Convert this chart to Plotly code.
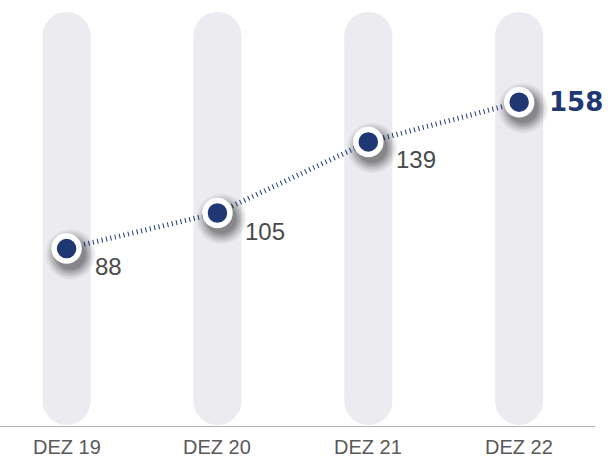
import plotly.graph_objects as go

# Year-end counts
categories = ["DEZ 19", "DEZ 20", "DEZ 21", "DEZ 22"]
values = [88, 105, 139, 158]
value_labels = ["88", "105", "139", "158"]

NAVY = "#1f3873"
TRACK = "#ebebf0"
LABEL_GREY = "#4a4a4a"
AXIS_GREY = "#5a5a5a"

W, H = 613, 458
M_L, M_R, M_T, M_B = 0, 18, 0, 32
PLOT_W = W - M_L - M_R
PLOT_H = H - M_T - M_B

Y_RANGE = [3.1, 206.9]
X_RANGE = [-0.4415, 3.5028]
px_y = PLOT_H / (Y_RANGE[1] - Y_RANGE[0])
px_x = PLOT_W / (X_RANGE[1] - X_RANGE[0])


def y_at(py):
    """Data value at a pixel row measured from the top of the plot area."""
    return Y_RANGE[1] - py / px_y


idx = list(range(len(categories)))

# Rounded vertical tracks behind each year
TRACK_W = 48
track_top = y_at(12 + TRACK_W / 2)
track_bot = y_at(425 - TRACK_W / 2)
tx, ty = [], []
for i in idx:
    tx += [i, i, None]
    ty += [track_bot, track_top, None]

fig = go.Figure()
fig.add_trace(go.Scatter(
    x=tx, y=ty, mode="lines+markers",
    line=dict(color=TRACK, width=TRACK_W),
    marker=dict(color=TRACK, size=TRACK_W, line=dict(width=0)),
    hoverinfo="skip", showlegend=False,
))

# Fine dotted connector
fig.add_trace(go.Scatter(
    x=idx, y=values, mode="lines",
    line=dict(color=NAVY, width=5, dash="1px,3.5px"),
    hoverinfo="skip", showlegend=False,
))

# Soft drop shadow under each point
sh_dx, sh_dy = 4 / px_x, -6 / px_y
for size, alpha in [(50, 0.05), (46, 0.06), (42, 0.08), (38, 0.09), (34, 0.11), (30, 0.12)]:
    fig.add_trace(go.Scatter(
        x=[i + sh_dx for i in idx], y=[v + sh_dy for v in values],
        mode="markers",
        marker=dict(color=f"rgba(0,0,0,{alpha})", size=size, line=dict(width=0)),
        hoverinfo="skip", showlegend=False,
    ))

# Points with white ring
fig.add_trace(go.Scatter(
    x=idx, y=values, mode="markers",
    marker=dict(color=NAVY, size=25, line=dict(color="white", width=5.5)),
    hoverinfo="skip", showlegend=False,
))

for i, (v, lab) in enumerate(zip(values, value_labels)):
    last = i == len(values) - 1
    fig.add_annotation(
        x=i, y=v, text=lab, showarrow=False,
        xanchor="left", yanchor="middle",
        xshift=28 if last else 26, yshift=0 if last else -18,
        font=dict(
            family="DejaVu Sans" if last else "Liberation Sans",
            size=26 if last else 24,
            color=NAVY if last else LABEL_GREY,
            weight="bold" if last else "normal",
        ),
    )

# Category labels under the baseline
for i, cat in enumerate(categories):
    fig.add_annotation(
        x=i, y=0, yref="paper", text=cat, showarrow=False,
        xanchor="center", yanchor="top", yshift=-9, borderpad=0,
        font=dict(family="Liberation Sans", size=20, color=AXIS_GREY),
    )

fig.update_layout(
    width=W, height=H,
    margin=dict(l=M_L, r=M_R, t=M_T, b=M_B, pad=0),
    paper_bgcolor="white", plot_bgcolor="white",
    hovermode=False, showlegend=False,
    xaxis=dict(
        range=X_RANGE, tickvals=idx, showticklabels=False,
        showgrid=False, zeroline=False, showline=True,
        linecolor="#b4b4b4", linewidth=1, ticks="",
        fixedrange=True,
    ),
    yaxis=dict(
        range=Y_RANGE, visible=False, showgrid=False, zeroline=False,
        fixedrange=True,
    ),
)

fig.write_html("out.html", config={"displayModeBar": False})
